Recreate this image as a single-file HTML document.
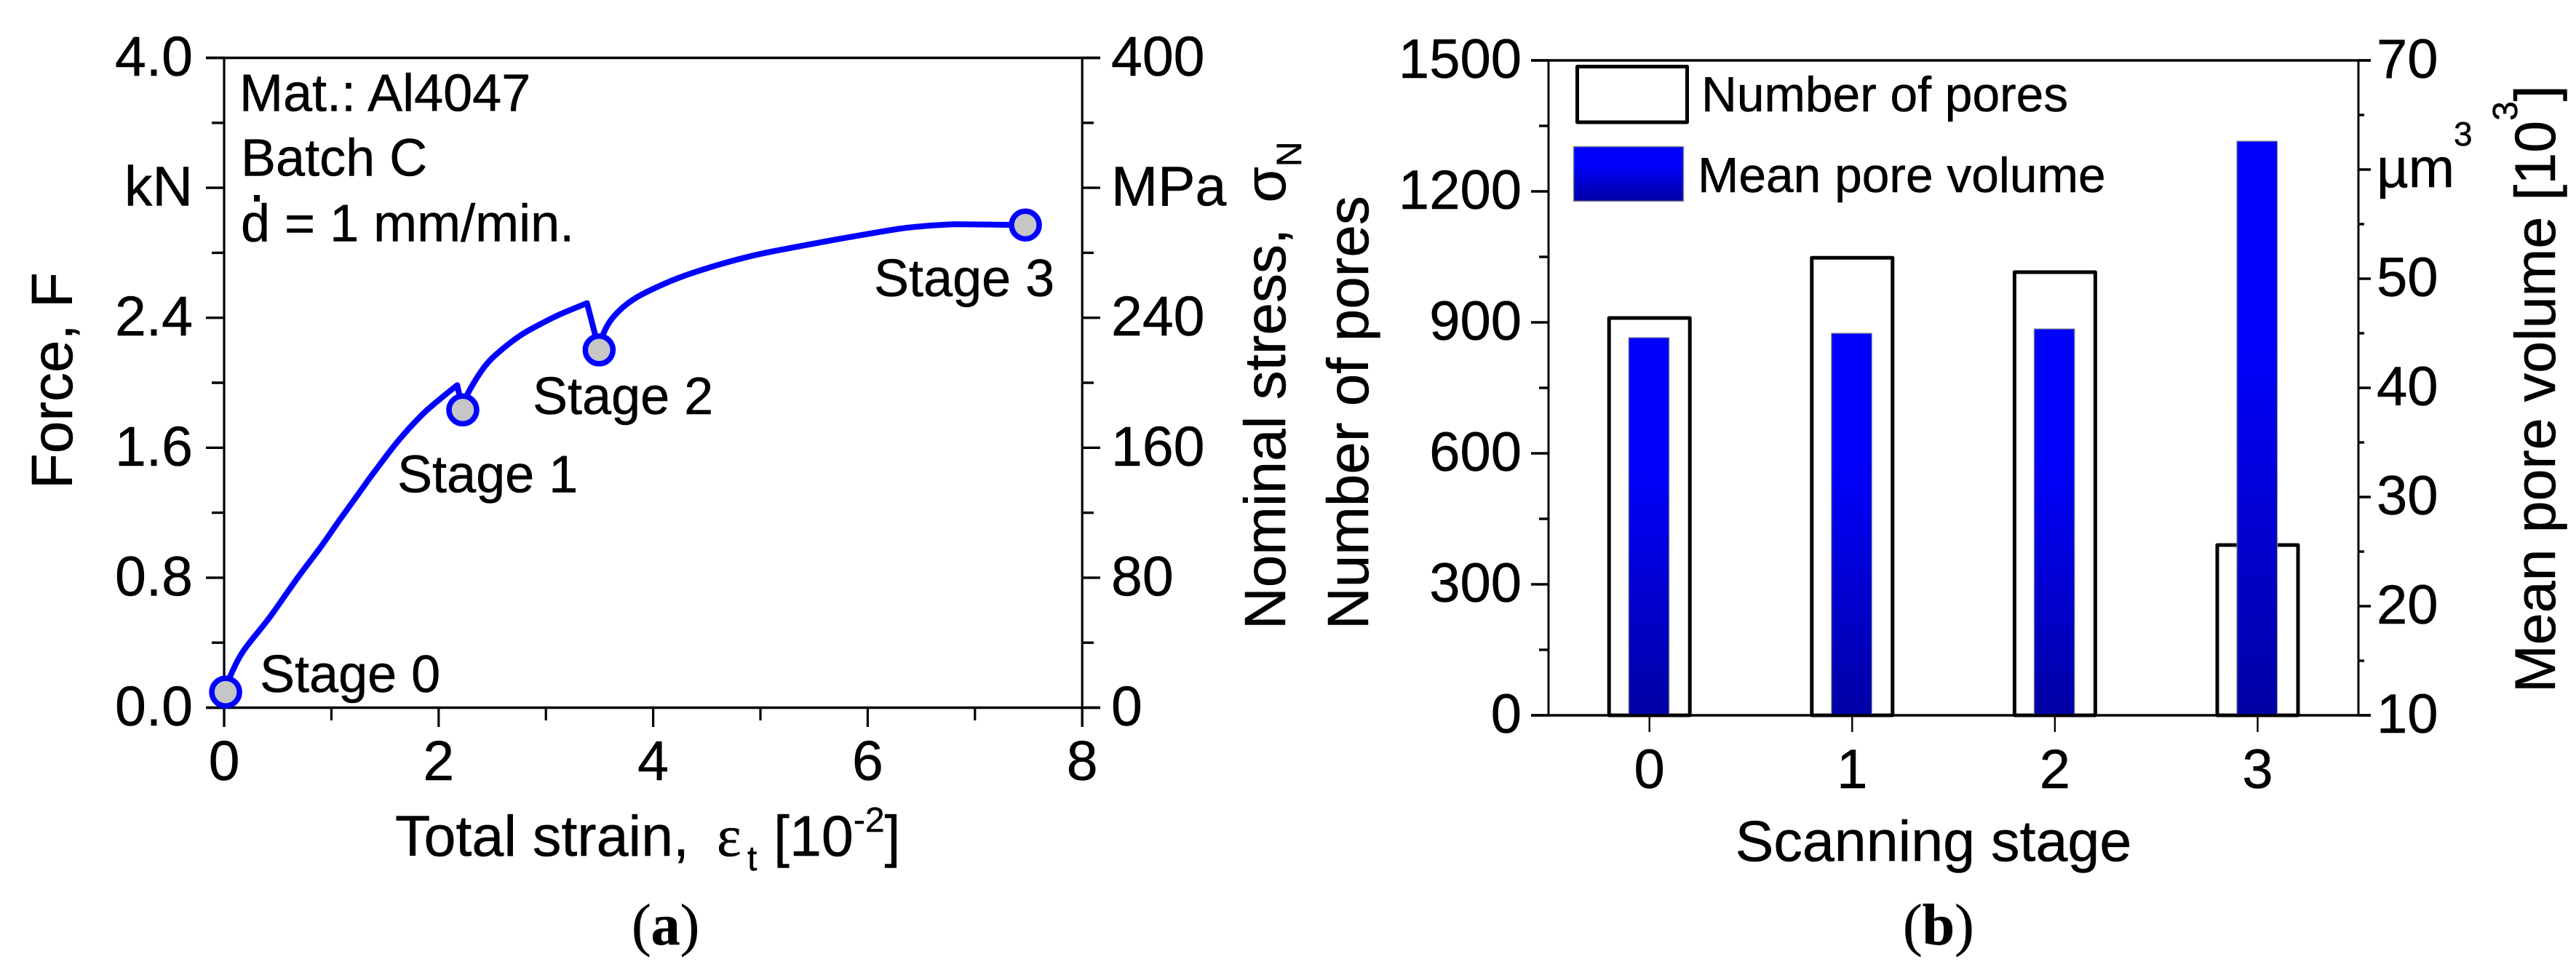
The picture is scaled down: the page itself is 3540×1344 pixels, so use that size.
<!DOCTYPE html>
<html lang="en">
<head>
<meta charset="utf-8">
<title>Tensile curve and pore statistics</title>
<style>
html,body{margin:0;padding:0;background:#fff;width:3540px;height:1344px;overflow:hidden}
svg{display:block;position:absolute;left:0;top:0}
text{font-family:"Liberation Sans",sans-serif;fill:#000;stroke:#000;stroke-width:0.5px}
.ser{font-family:"Liberation Serif",serif}
</style>
</head>
<body>
<svg id="fig" xmlns="http://www.w3.org/2000/svg" width="3540" height="1344" viewBox="0 0 3540 1344">
  <defs>
    <linearGradient id="blueGrad" x1="0" y1="0" x2="0" y2="1">
      <stop offset="0" stop-color="#0000ff"/>
      <stop offset="0.33" stop-color="#0000ff"/>
      <stop offset="1" stop-color="#0000a4"/>
    </linearGradient>
  </defs>
  <rect x="0" y="0" width="3540" height="1344" fill="#fff"/>
  <g id="panelA"></g>
  <g id="panelB"></g>

  <g font-size="72">
    <text x="329" y="152.5">Mat.: Al4047</text>
    <text x="331" y="241.5">Batch C</text>
    <text x="331" y="331.5">d = 1 mm/min.</text>
    <rect x="349" y="268" width="8" height="9" fill="#000"/>
    <text x="357" y="951">Stage 0</text>
    <text x="546" y="676.5">Stage 1</text>
    <text x="732" y="569">Stage 2</text>
    <text x="1201" y="407">Stage 3</text>
  </g>

  <text transform="translate(99,672) rotate(-90)" font-size="80">Force, F</text>
  <text transform="translate(1766,865) rotate(-90)" font-size="80">Nominal stress, <tspan dx="13">σ</tspan><tspan font-size="48" dy="22">N</tspan></text>
  <text y="1176" font-size="79"><tspan x="543">Total strain,</tspan><tspan class="ser" x="985" font-size="80">ε</tspan><tspan x="1027" dy="20" font-size="48">t</tspan><tspan x="1063" dy="-20">[10</tspan><tspan dy="-33" font-size="48">-2</tspan><tspan dy="33">]</tspan></text>
  <text class="ser" x="868" y="1298" font-size="80">(<tspan font-weight="bold">a</tspan>)</text>

  <text transform="translate(1880,865) rotate(-90)" font-size="80">Number of pores</text>
  <text transform="translate(3511,952) rotate(-90)" font-size="79">Mean pore volume [10<tspan font-size="48" dy="-52">3</tspan><tspan dy="52">]</tspan></text>
  <text x="2657" y="1183" text-anchor="middle" font-size="79">Scanning stage</text>
  <text class="ser" x="2615" y="1298" font-size="80">(<tspan font-weight="bold">b</tspan>)</text>

  <rect x="2167.5" y="91.5" width="151" height="76.5" fill="#fff" stroke="#000" stroke-width="5" stroke-linejoin="round"/>
  <text x="2338" y="153" font-size="67.7">Number of pores</text>
  <rect x="2162.5" y="201.5" width="151" height="75" fill="url(#blueGrad)" stroke="#888" stroke-width="1.5"/>
  <text x="2333" y="264" font-size="67.7">Mean pore volume</text>
  <text x="3372" y="200" font-size="46">3</text>
</svg>
<script>
// ---- Panel (a) data ----
const strainValues = [0.014,0.036,0.170,0.421,0.692,0.896,1.077,1.280,1.393,1.619,1.845,2.026,2.173,2.225,2.275,2.433,2.592,2.773,2.953,3.134,3.383,3.496,3.541,3.632,3.813,4.130,4.469,4.919,5.373,5.804,6.364,6.798,7.470];
const forceValues  = [0.096,0.160,0.340,0.553,0.806,0.985,1.155,1.342,1.445,1.639,1.803,1.907,1.985,1.833,1.937,2.103,2.206,2.296,2.363,2.422,2.490,2.202,2.310,2.408,2.512,2.617,2.698,2.781,2.841,2.893,2.954,2.976,2.971];
const stageStrain  = [0.014,2.225,3.496,7.470];
const stageForce   = [0.096,1.833,2.202,2.971];
const strainMajorTicks = [0,2,4,6,8];
const strainMinorTicks = [1,3,5,7];
const strainTickLabels = ['0','2','4','6','8'];
const forceMajorTicks = [0,0.8,1.6,2.4,3.2,4.0];
const forceMinorTicks = [0.4,1.2,2.0,2.8,3.6];
const forceTickLabels = ['0.0','0.8','1.6','2.4','kN','4.0'];
const stressMajorTicks = [0,80,160,240,320,400];
const stressMinorTicks = [40,120,200,280,360];
const stressTickLabels = ['0','80','160','240','MPa','400'];

// ---- Panel (b) data ----
const stageCategories = [0,1,2,3];
const stageCategoryLabels = ['0','1','2','3'];
const poreCounts = [910,1048,1015,390];
const meanPoreVolumes = [44.6,45.0,45.4,62.6];
const countMajorTicks = [0,300,600,900,1200,1500];
const countMinorTicks = [150,450,750,1050,1350];
const countTickLabels = ['0','300','600','900','1200','1500'];
const volumeMajorTicks = [10,20,30,40,50,60,70];
const volumeMinorTicks = [15,25,35,45,55,65];
const volumeTickLabels = ['10','20','30','40','50','µm','70'];

const NS = 'http://www.w3.org/2000/svg';
const panelA = document.getElementById('panelA');
const panelB = document.getElementById('panelB');

// axis functions
const xStrain = v => 308 + v * 147.4;
const yForce = v => 972.5 - v * 223.25;
const yStress = v => yForce(v / 100);
const xStage = v => 2266.7 + v * 278.6;
const yCount = v => 983 - v * 0.6;
const yVolume = v => 983 - (v - 10) * 15;

function line(parent, x1, y1, x2, y2, w) {
  const el = document.createElementNS(NS, 'line');
  el.setAttribute('x1', x1);
  el.setAttribute('y1', y1);
  el.setAttribute('x2', x2);
  el.setAttribute('y2', y2);
  el.setAttribute('stroke', '#000');
  el.setAttribute('stroke-width', w);
  parent.appendChild(el);
  return el;
}
function label(parent, x, y, str, size, anchor) {
  const el = document.createElementNS(NS, 'text');
  el.setAttribute('x', x);
  el.setAttribute('y', y);
  el.setAttribute('font-size', size);
  el.setAttribute('text-anchor', anchor);
  el.textContent = str;
  parent.appendChild(el);
  return el;
}
// Smooth path through the read points, keeping corners at local force extrema.
function smoothPath(xs, ys) {
  const n = xs.length;
  const isCorner = i => i > 0 && i < n - 1 && (ys[i] - ys[i - 1]) * (ys[i + 1] - ys[i]) > 0;
  let d = 'M' + xs[0].toFixed(1) + ' ' + ys[0].toFixed(1);
  for (let i = 0; i < n - 1; i++) {
    const p0 = (i === 0 || !isCorner(i)) ? i : i - 1;
    const p3 = (i + 2 >= n || !isCorner(i + 1)) ? i + 1 : i + 2;
    const c1x = xs[i] + (xs[i + 1] - xs[p0]) / 6;
    const c1y = ys[i] + (ys[i + 1] - ys[p0]) / 6;
    const c2x = xs[i + 1] - (xs[p3] - xs[i]) / 6;
    const c2y = ys[i + 1] - (ys[p3] - ys[i]) / 6;
    d += ' C' + c1x.toFixed(1) + ' ' + c1y.toFixed(1) + ' ' + c2x.toFixed(1) + ' ' + c2y.toFixed(1) + ' ' + xs[i + 1].toFixed(1) + ' ' + ys[i + 1].toFixed(1);
  }
  return d;
}

// ---- Panel (a) axes ----
let el;
el = line(panelA, 283, yForce(4), 1512, yForce(4), 3.6);


el = line(panelA, 283, yForce(0), 1512, yForce(0), 3.6);


el = line(panelA, xStrain(0), yForce(4), xStrain(0), 999, 3.2);


el = line(panelA, xStrain(8), yForce(4), xStrain(8), 999, 3.2);



strainMajorTicks.forEach((v, i) => {
  const t = line(panelA, xStrain(v), yForce(0), xStrain(v), 999, 3.2);
  
  
  const l = label(panelA, xStrain(v), 1072, strainTickLabels[i], 77, 'middle');
  
  
});
strainMinorTicks.forEach(v => {
  const t = line(panelA, xStrain(v), yForce(0), xStrain(v), 990, 3.2);
  
  
});
forceMajorTicks.forEach((v, i) => {
  const t = line(panelA, 283, yForce(v), xStrain(0), yForce(v), 3.4);
  
  
  const l = label(panelA, 265, yForce(v) + 24.5, forceTickLabels[i], 77, 'end');
  
  
});
forceMinorTicks.forEach(v => {
  const t = line(panelA, 291, yForce(v), xStrain(0), yForce(v), 3.4);
  
  
});
stressMajorTicks.forEach((v, i) => {
  const t = line(panelA, xStrain(8), yStress(v), 1512, yStress(v), 3.4);
  
  
  const l = label(panelA, 1527, yStress(v) + 24.5, stressTickLabels[i], 77, 'start');
  
  
});
stressMinorTicks.forEach(v => {
  const t = line(panelA, xStrain(8), yStress(v), 1503, yStress(v), 3.4);
  
  
});

// ---- Panel (a) curve & stage markers ----
const curve = document.createElementNS(NS, 'path');
curve.setAttribute('d', smoothPath(strainValues.map(xStrain), forceValues.map(yForce)));
curve.setAttribute('fill', 'none');
curve.setAttribute('stroke', '#0000ff');
curve.setAttribute('stroke-width', '8');
curve.setAttribute('stroke-linejoin', 'round');


panelA.appendChild(curve);

stageStrain.forEach((v, i) => {
  const c = document.createElementNS(NS, 'circle');
  c.setAttribute('cx', xStrain(v));
  c.setAttribute('cy', yForce(stageForce[i]));
  c.setAttribute('r', 19);
  c.setAttribute('fill', '#c6c6c6');
  c.setAttribute('stroke', '#0000ff');
  c.setAttribute('stroke-width', '7.5');
  
  
  panelA.appendChild(c);
});

// ---- Panel (b) bars ----
stageCategories.forEach((v, i) => {
  const r = document.createElementNS(NS, 'rect');
  r.setAttribute('x', xStage(v) - 55.5);
  r.setAttribute('y', yCount(poreCounts[i]));
  r.setAttribute('width', 111);
  r.setAttribute('height', yCount(0) - yCount(poreCounts[i]));
  r.setAttribute('fill', '#fff');
  r.setAttribute('stroke', '#000');
  r.setAttribute('stroke-width', '5');
  r.setAttribute('stroke-linejoin', 'round');
  
  
  panelB.appendChild(r);
});
stageCategories.forEach((v, i) => {
  const r = document.createElementNS(NS, 'rect');
  r.setAttribute('x', xStage(v) - 28.5);
  r.setAttribute('y', yVolume(meanPoreVolumes[i]));
  r.setAttribute('width', 55.5);
  r.setAttribute('height', yVolume(10) - yVolume(meanPoreVolumes[i]));
  r.setAttribute('fill', 'url(#blueGrad)');
  r.setAttribute('stroke', '#888');
  r.setAttribute('stroke-width', '1.2');
  
  
  panelB.appendChild(r);
});

// ---- Panel (b) axes ----
el = line(panelB, 2104, yCount(1500), 3258, yCount(1500), 3.6);


el = line(panelB, 2104, yCount(0), 3258, yCount(0), 3.6);


el = line(panelB, 2128, yCount(1500), 2128, yCount(0), 3);


el = line(panelB, 3241, yCount(1500), 3241, yCount(0), 3);



stageCategories.forEach((v, i) => {
  const t = line(panelB, xStage(v), yCount(0), xStage(v), 1006, 2.4);
  
  
  const l = label(panelB, xStage(v), 1083, stageCategoryLabels[i], 76, 'middle');
  
  
});
countMajorTicks.forEach((v, i) => {
  const t = line(panelB, 2104, yCount(v), 2128, yCount(v), 3.4);
  
  
  const l = label(panelB, 2091, yCount(v) + 24, countTickLabels[i], 76, 'end');
  
  
});
countMinorTicks.forEach(v => {
  const t = line(panelB, 2115, yCount(v), 2128, yCount(v), 3.4);
  
  
});
volumeMajorTicks.forEach((v, i) => {
  const t = line(panelB, 3241, yVolume(v), 3258, yVolume(v), 3.4);
  
  
  const l = label(panelB, 3266, yVolume(v) + 24, volumeTickLabels[i], 76, 'start');
  
  
});
volumeMinorTicks.forEach(v => {
  const t = line(panelB, 3241, yVolume(v), 3249, yVolume(v), 3.4);
  
  
});
</script>
</body>
</html>
